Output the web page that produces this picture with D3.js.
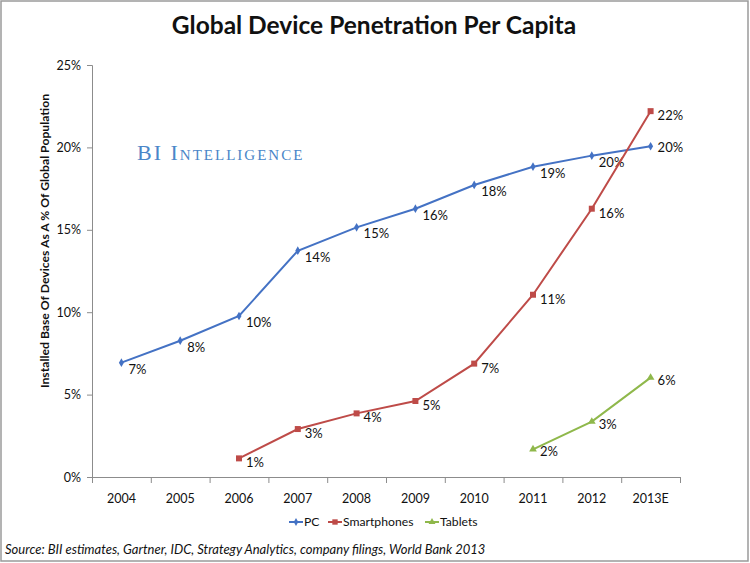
<!DOCTYPE html>
<html>
<head>
<meta charset="utf-8">
<script src="https://cdn.jsdelivr.net/npm/d3@7"></script>
<style>
  body { margin: 0; background: #fff; }
  svg text { font-family: Lato, "Open Sans", sans-serif; fill: #111; }
</style>
</head>
<body>
<svg id="chart"></svg>
<script>
// data
var years = ["2004", "2005", "2006", "2007", "2008", "2009", "2010", "2011", "2012", "2013E"];
var pcValues = [6.94, 8.27, 9.77, 13.73, 15.15, 16.28, 17.72, 18.83, 19.5, 20.07];
var smartphoneValues = [null, null, 1.13, 2.91, 3.86, 4.61, 6.88, 11.06, 16.28, 22.2];
var tabletValues = [null, null, null, null, null, null, null, 1.68, 3.36, 6.03];
var pcLabels = ["7%", "8%", "10%", "14%", "15%", "16%", "18%", "19%", "20%", "20%"];
var smartphoneLabels = [null, null, "1%", "3%", "4%", "5%", "7%", "11%", "16%", "22%"];
var tabletLabels = [null, null, null, null, null, null, null, "2%", "3%", "6%"];
var yTicks = [0, 5, 10, 15, 20, 25];

var W = 750, H = 563;
var margin = {top: 65, left: 92};
var width = 588, height = 412;

var svg = d3.select("#chart").attr("width", W).attr("height", H);

svg.append("rect")
  .attr("x", 1).attr("y", 1).attr("width", W - 3).attr("height", H - 3)
  .attr("fill", "#fff").attr("stroke", "#9a9a9a").attr("stroke-width", 1.5);

svg.append("text")
  .attr("x", 374).attr("y", 34)
  .attr("text-anchor", "middle")
  .style("font-size", "24.5px").style("font-weight", "bold")
  .text("Global Device Penetration Per Capita");

var g = svg.append("g")
  .attr("transform", "translate(" + margin.left + "," + margin.top + ")");

var x = d3.scaleBand().domain(years).range([0, width]);
var xEdge = d3.scaleLinear().domain([0, years.length]).range([0, width]);
var y = d3.scaleLinear().domain([0, 25]).range([height, 0]);

// watermark
g.append("text")
  .attr("x", 45).attr("y", 95)
  .style("font-family", "'Liberation Serif', 'DejaVu Serif', serif")
  .style("font-size", "22px")
  .style("font-variant", "small-caps")
  .style("letter-spacing", "2px")
  .style("fill", "#4a86c8")
  .text("BI Intelligence");

// y axis
var yAxis = d3.axisLeft(y).tickValues(yTicks).tickSize(5).tickPadding(6)
  .tickFormat(d => d + "%");
g.append("g").attr("class", "y-axis").call(yAxis);

// x axis: labels centred, ticks at category edges
var xg = g.append("g").attr("class", "x-axis")
  .attr("transform", "translate(0," + height + ")")
  .call(d3.axisBottom(x).tickSize(0).tickPadding(17));
xg.select(".domain").remove();
g.append("g")
  .attr("transform", "translate(0," + height + ")")
  .call(d3.axisBottom(xEdge).ticks(years.length).tickSize(6).tickFormat(""));

g.selectAll(".domain, .tick line").attr("stroke", "#8c8c8c");
g.selectAll(".tick text").style("font-size", "12.5px").style("fill", "#111")
  .style("font-family", "Lato, 'Open Sans', sans-serif");

svg.append("text")
  .attr("transform", "translate(49,241) rotate(-90)")
  .attr("text-anchor", "middle")
  .style("font-size", "12.2px").style("font-weight", "bold")
  .text("Installed Base Of Devices As A % Of Global Population");

var series = [
  {name: "PC", values: pcValues, labels: pcLabels, color: "#4472c4", marker: d3.symbolDiamond, size: 22, dx: 7, dy: 11},
  {name: "Smartphones", values: smartphoneValues, labels: smartphoneLabels, color: "#be4b48", marker: d3.symbolSquare, size: 36, dx: 7, dy: 9},
  {name: "Tablets", values: tabletValues, labels: tabletLabels, color: "#8fb84b", marker: d3.symbolTriangle, size: 26, dx: 7, dy: 7}
];

var line = d3.line()
  .defined(d => d.v != null)
  .x(d => x(d.year) + x.bandwidth() / 2)
  .y(d => y(d.v));

series.forEach(function(s) {
  var pts = years.map((yr, i) => ({year: yr, v: s.values[i], label: s.labels[i]}));
  var valid = pts.filter(d => d.v != null);

  g.append("path")
    .datum(pts)
    .attr("fill", "none")
    .attr("stroke", s.color)
    .attr("stroke-width", 2)
    .attr("d", line);

  g.selectAll(".m-" + s.name)
    .data(valid)
    .enter()
    .append("path")
    .attr("transform", d => "translate(" + (x(d.year) + x.bandwidth() / 2) + "," + y(d.v) + ")")
    .attr("d", d3.symbol().type(s.marker).size(s.size))
    .attr("fill", s.color);

  g.selectAll(".l-" + s.name)
    .data(valid)
    .enter()
    .append("text")
    .attr("x", d => x(d.year) + x.bandwidth() / 2 + s.dx)
    .attr("y", d => y(d.v) + (s.name == "PC" && d.year == "2013E" ? 6 : s.dy))
    .style("font-size", "13px")
    .text(d => d.label);
});

// legend
var legendX = [289, 328, 425];
var legend = svg.append("g").attr("transform", "translate(0,522)");
series.forEach(function(s, i) {
  var lg = legend.append("g").attr("transform", "translate(" + legendX[i] + ",0)");
  lg.append("line").attr("x1", 0).attr("x2", 14).attr("stroke", s.color).attr("stroke-width", 2);
  lg.append("path").attr("transform", "translate(7,0)")
    .attr("d", d3.symbol().type(s.marker).size(s.size * 0.8)).attr("fill", s.color);
  lg.append("text").attr("x", 15).attr("y", 4).style("font-size", "12.2px").text(s.name);
});

svg.append("text")
  .attr("x", 5).attr("y", 554)
  .style("font-size", "13px").style("font-style", "italic")
  .text("Source: BII estimates, Gartner, IDC, Strategy Analytics, company filings, World Bank 2013");
</script>
</body>
</html>
